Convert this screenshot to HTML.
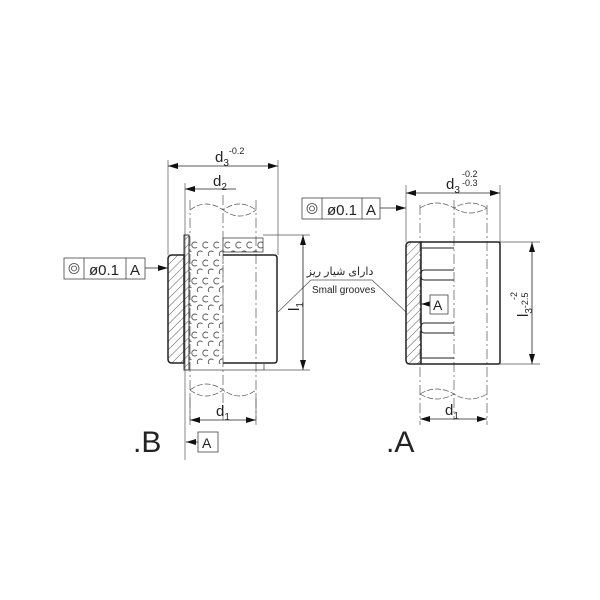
<!DOCTYPE html>
<html><head><meta charset="utf-8"><style>
html,body{margin:0;padding:0;background:#fff}
svg{display:block}
text{font-family:"Liberation Sans","DejaVu Sans",sans-serif;fill:#222}
</style></head><body>
<svg width="600" height="600" viewBox="0 0 600 600" xmlns="http://www.w3.org/2000/svg">
<defs>
<pattern id="h" width="6" height="6" patternUnits="userSpaceOnUse" patternTransform="rotate(45)">
<line x1="0" y1="0" x2="0" y2="6" stroke="#333" stroke-width="0.8"/>
</pattern>
<pattern id="balls" x="189" y="238" width="11" height="18" patternUnits="userSpaceOnUse">
<path d="M8 5 A3 3 0 1 0 8 9" fill="none" stroke="#555" stroke-width="0.9"/>
<path d="M13.5 14 A3 3 0 1 0 13.5 18" fill="none" stroke="#555" stroke-width="0.9"/>
<path d="M2.5 14 A3 3 0 1 0 2.5 18" fill="none" stroke="#555" stroke-width="0.9"/>
</pattern>
<marker id="ar" markerWidth="10" markerHeight="6" refX="10" refY="3" orient="auto-start-reverse" markerUnits="userSpaceOnUse">
<path d="M0 0 L10 3 L0 6 Z" fill="#111"/>
</marker>
</defs>
<g stroke="#555" stroke-width="0.7" fill="none">
<line x1="190" y1="200" x2="190" y2="420" stroke-dasharray="10 3 2 3"/>
<line x1="256" y1="200" x2="256" y2="420" stroke-dasharray="10 3 2 3"/>
<line x1="223" y1="195" x2="223" y2="420" stroke-dasharray="10 3 2 3"/>
<path d="M190 210 Q206 198 223 210 Q240 198 256 210 M223 210 Q240 222 256 210" stroke-dasharray="6 2"/>
<path d="M190 390 Q206 402 223 390 Q240 402 256 390 M190 390 Q206 378 223 390" stroke-dasharray="6 2"/>
<line x1="168" y1="160" x2="168" y2="255"/>
<line x1="278" y1="160" x2="278" y2="255"/>
<line x1="185" y1="183" x2="185" y2="460"/>
<line x1="263" y1="235" x2="310" y2="235"/>
<line x1="264" y1="370" x2="310" y2="370"/>
<line x1="190" y1="395" x2="190" y2="425"/>
<line x1="256" y1="395" x2="256" y2="425"/>
<polyline points="278,312 311,280 372,280 406,312"/>
<line x1="420" y1="205" x2="420" y2="425" stroke-dasharray="10 3 2 3"/>
<line x1="487" y1="205" x2="487" y2="425" stroke-dasharray="10 3 2 3"/>
<line x1="454" y1="200" x2="454" y2="420" stroke-dasharray="10 3 2 3"/>
<path d="M420 208 Q437 198 454 208 Q470 198 487 208 M454 208 Q470 218 487 208" stroke-dasharray="6 2"/>
<path d="M420 394 Q437 404 454 394 Q470 404 487 394 M420 394 Q437 384 454 394" stroke-dasharray="6 2"/>
<line x1="406" y1="185" x2="406" y2="242"/>
<line x1="500" y1="185" x2="500" y2="242"/>
<line x1="500" y1="242" x2="540" y2="242"/>
<line x1="500" y1="364" x2="540" y2="364"/>
</g>
<rect x="189" y="238" width="34" height="128" fill="url(#balls)"/>
<rect x="223" y="238" width="40" height="14" fill="url(#balls)" stroke="#444" stroke-width="0.8"/>
<rect x="184" y="235" width="5" height="135" fill="url(#h)" stroke="#333" stroke-width="1"/>
<line x1="184" y1="370" x2="264" y2="370" stroke="#444" stroke-width="0.8"/>
<line x1="264" y1="364" x2="264" y2="370" stroke="#444" stroke-width="0.8"/>
<path d="M184 255 L172 255 Q168 255 168 259 L168 359 Q168 363 172 363 L184 363 Z" fill="url(#h)" stroke="#222" stroke-width="1.5"/>
<path d="M223 255 L274 255 Q277 255 277 258 L277 360 Q277 363 274 363 L223 363" fill="none" stroke="#222" stroke-width="1.5"/>
<line x1="223" y1="255" x2="223" y2="363" stroke="#666" stroke-width="0.7" stroke-dasharray="8 2"/>
<path d="M421 242 L410 242 Q406 242 406 246 L406 360 Q406 364 410 364 L421 364 Z" fill="url(#h)" stroke="#222" stroke-width="1.5"/>
<path d="M421 242 L498 242 Q500 242 500 244 L500 362 Q500 364 498 364 L421 364" fill="none" stroke="#222" stroke-width="1.5"/>
<g stroke="#222" stroke-width="1" fill="none">
<line x1="421" y1="248" x2="454" y2="248"/>
<line x1="421" y1="358" x2="454" y2="358"/>
<path d="M454 270 L424 270 Q421 270 421 275 Q421 280 424 280 L454 280"/>
<path d="M454 323 L424 323 Q421 323 421 328 Q421 333 424 333 L454 333"/>
</g>
<g stroke="#222" stroke-width="0.8" fill="none">
<line x1="168" y1="166" x2="278" y2="166" marker-start="url(#ar)" marker-end="url(#ar)"/>
<line x1="185" y1="189" x2="236" y2="189" marker-start="url(#ar)"/>
<line x1="303" y1="235" x2="303" y2="370" marker-start="url(#ar)" marker-end="url(#ar)"/>
<line x1="190" y1="420" x2="256" y2="420" marker-start="url(#ar)" marker-end="url(#ar)"/>
<line x1="406" y1="193" x2="500" y2="193" marker-start="url(#ar)" marker-end="url(#ar)"/>
<line x1="420" y1="419" x2="487" y2="419" marker-start="url(#ar)" marker-end="url(#ar)"/>
<line x1="532" y1="242" x2="532" y2="364" marker-start="url(#ar)" marker-end="url(#ar)"/>
<line x1="145" y1="268" x2="168" y2="268" marker-end="url(#ar)"/>
<line x1="380" y1="208" x2="406" y2="208" marker-end="url(#ar)"/>
<line x1="198" y1="442" x2="186" y2="442" marker-end="url(#ar)"/>
<line x1="430" y1="304" x2="421" y2="304" marker-end="url(#ar)"/>
</g>
<g stroke="#444" stroke-width="0.8" fill="#fff">
<rect x="64" y="258" width="81" height="21"/>
<line x1="84" y1="258" x2="84" y2="279"/><line x1="126" y1="258" x2="126" y2="279"/>
<rect x="302" y="198" width="78" height="21"/>
<line x1="322" y1="198" x2="322" y2="219"/><line x1="362" y1="198" x2="362" y2="219"/>
<rect x="198" y="432" width="20" height="20"/>
<rect x="430" y="295" width="18" height="19"/>
<circle cx="74" cy="268.5" r="5" fill="none"/><circle cx="74" cy="268.5" r="2.5" fill="none"/>
<circle cx="312" cy="208.5" r="5" fill="none"/><circle cx="312" cy="208.5" r="2.5" fill="none"/>
</g>
<g font-size="15">
<text x="89" y="275">ø0.1</text><text x="130" y="275">A</text>
<text x="327" y="215">ø0.1</text><text x="366" y="215">A</text>
<text x="202" y="448" font-size="14">A</text>
<text x="433" y="310" font-size="14">A</text>
<text x="215" y="162">d<tspan font-size="10" dy="4">3</tspan><tspan font-size="9" dy="-12">-0.2</tspan></text>
<text x="213" y="186">d<tspan font-size="10" dy="4">2</tspan></text>
<text x="216" y="416">d<tspan font-size="10" dy="4">1</tspan></text>
<text x="445" y="415">d<tspan font-size="10" dy="4">1</tspan></text>
<text x="446" y="189">d<tspan font-size="10" dy="4">3</tspan></text>
<text x="462" y="177" font-size="9">-0.2</text><text x="462" y="186" font-size="9">-0.3</text>
<text transform="translate(299,311) rotate(-90)">l<tspan font-size="10" dy="4">1</tspan></text>
<text transform="translate(528,317) rotate(-90)">l<tspan font-size="10" dy="4">3</tspan><tspan font-size="9" dy="-4">-2.5</tspan></text>
<text transform="translate(517,300) rotate(-90)" font-size="9">-2</text>
</g>
<text x="312" y="293" font-size="10">Small grooves</text>
<text x="340" y="275" font-size="11" text-anchor="middle" font-family="'DejaVu Sans',sans-serif">دارای شیار ریز</text>
<text x="133" y="452" font-size="30">.B</text>
<text x="386" y="452" font-size="30">.A</text>
</svg>
</body></html>
